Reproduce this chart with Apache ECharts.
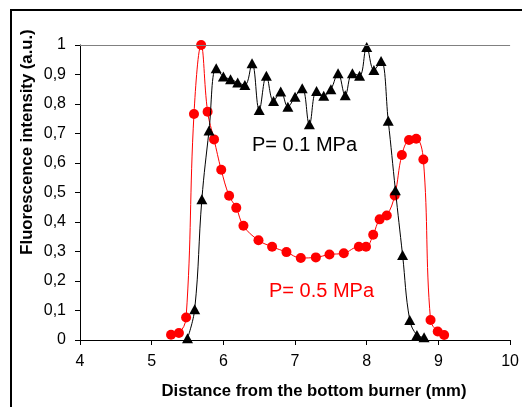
<!DOCTYPE html>
<html>
<head>
<meta charset="utf-8">
<script src="https://cdn.jsdelivr.net/npm/echarts@6/dist/echarts.min.js"></script>
<style>
html,body{margin:0;padding:0;background:#fff;}
#c{width:522px;height:407px;}
</style>
</head>
<body>
<div id="c"></div>
<script>
// P = 0.1 MPa (black triangles)
var lowX = [5.5,5.6,5.7,5.8,5.9,6.0,6.1,6.2,6.3,6.4,6.5,6.6,6.7,6.8,6.9,7.0,7.1,7.2,7.3,7.4,7.5,7.6,7.7,7.8,7.9,8.0,8.1,8.2,8.3,8.4,8.5,8.6,8.7,8.8];
var lowY = [0.006,0.104,0.477,0.71,0.921,0.893,0.884,0.873,0.864,0.938,0.78,0.896,0.81,0.842,0.791,0.825,0.853,0.731,0.844,0.828,0.85,0.904,0.83,0.904,0.896,0.993,0.915,0.946,0.743,0.508,0.288,0.068,0.017,0.009];
// P = 0.5 MPa (red circles)
var highX = [5.27,5.38,5.48,5.59,5.69,5.78,5.87,5.97,6.08,6.18,6.28,6.49,6.68,6.88,7.08,7.29,7.48,7.68,7.89,7.99,8.09,8.18,8.28,8.39,8.49,8.59,8.69,8.79,8.89,8.99,9.08];
var highY = [0.018,0.024,0.076,0.766,1.0,0.774,0.68,0.577,0.489,0.448,0.387,0.338,0.316,0.298,0.278,0.280,0.290,0.294,0.316,0.316,0.357,0.409,0.422,0.49,0.627,0.678,0.682,0.612,0.068,0.029,0.017];
var xTitle = 'Distance from the bottom burner (mm)';
var yTitle = 'Fluorescence intensity (a.u.)';
var lowLabel = 'P= 0.1 MPa';
var highLabel = 'P= 0.5 MPa';

function zip(a, b) { return a.map(function (v, i) { return [v, b[i]]; }); }
var FONT = '"Liberation Sans", Arial, sans-serif';

var chart = echarts.init(document.getElementById('c'), null, {renderer: 'canvas'});
chart.setOption({
  animation: false,
  backgroundColor: '#fff',
  grid: {left: 80, right: 4, top: 45, bottom: 67, containLabel: false},
  xAxis: {
    type: 'value', min: 4, max: 10, interval: 1,
    axisLine: {show: true, onZero: false, lineStyle: {color: '#000', width: 1}},
    axisTick: {show: true, inside: false, length: 5, lineStyle: {color: '#000'}},
    axisLabel: {color: '#000', fontSize: 16, fontFamily: FONT, margin: 14, showMaxLabel: true, hideOverlap: false},
    splitLine: {show: false}
  },
  yAxis: {
    type: 'value', min: 0, max: 1, interval: 0.1,
    axisLine: {show: true, lineStyle: {color: '#000', width: 1}},
    axisTick: {show: true, inside: false, length: 5, lineStyle: {color: '#000'}},
    axisLabel: {color: '#000', fontSize: 16, fontFamily: FONT, margin: 14,
      formatter: function (v) { return String(Math.round(v * 10) / 10).replace('.', ','); }},
    splitLine: {show: false}
  },
  graphic: [
    {type: 'rect', shape: {x: 11, y: 10, width: 620, height: 500}, style: {fill: 'none', stroke: '#000', lineWidth: 2}, z: -1},
    {type: 'text', x: 314, y: 391, style: {text: xTitle, font: 'bold 16.7px ' + FONT, fill: '#000', textAlign: 'center', textVerticalAlign: 'middle'}},
    {type: 'text', x: 27, y: 142, rotation: Math.PI / 2, style: {text: yTitle, font: 'bold 16.7px ' + FONT, fill: '#000', textAlign: 'center', textVerticalAlign: 'middle'}},
    {type: 'text', x: 252, y: 145, style: {text: lowLabel, font: '20px ' + FONT, fill: '#000', textAlign: 'left', textVerticalAlign: 'middle'}},
    {type: 'text', x: 269, y: 291, style: {text: highLabel, font: '20px ' + FONT, fill: '#ff0000', textAlign: 'left', textVerticalAlign: 'middle'}}
  ],
  series: [
    {
      type: 'line', name: highLabel, data: zip(highX, highY), smooth: 0.4,
      symbol: 'circle', symbolSize: 10,
      lineStyle: {color: '#ff0000', width: 1},
      itemStyle: {color: '#ff0000'},
      markLine: {silent: true, symbol: 'none', label: {show: false},
        lineStyle: {color: '#808080', type: 'solid', width: 1},
        data: [{yAxis: 1}]},
      z: 2
    },
    {
      type: 'line', name: lowLabel, data: zip(lowX, lowY), smooth: 0.4,
      symbol: 'triangle', symbolSize: [11, 10],
      lineStyle: {color: '#000', width: 1},
      itemStyle: {color: '#000'},
      z: 3
    }
  ]
});
</script>
</body>
</html>
